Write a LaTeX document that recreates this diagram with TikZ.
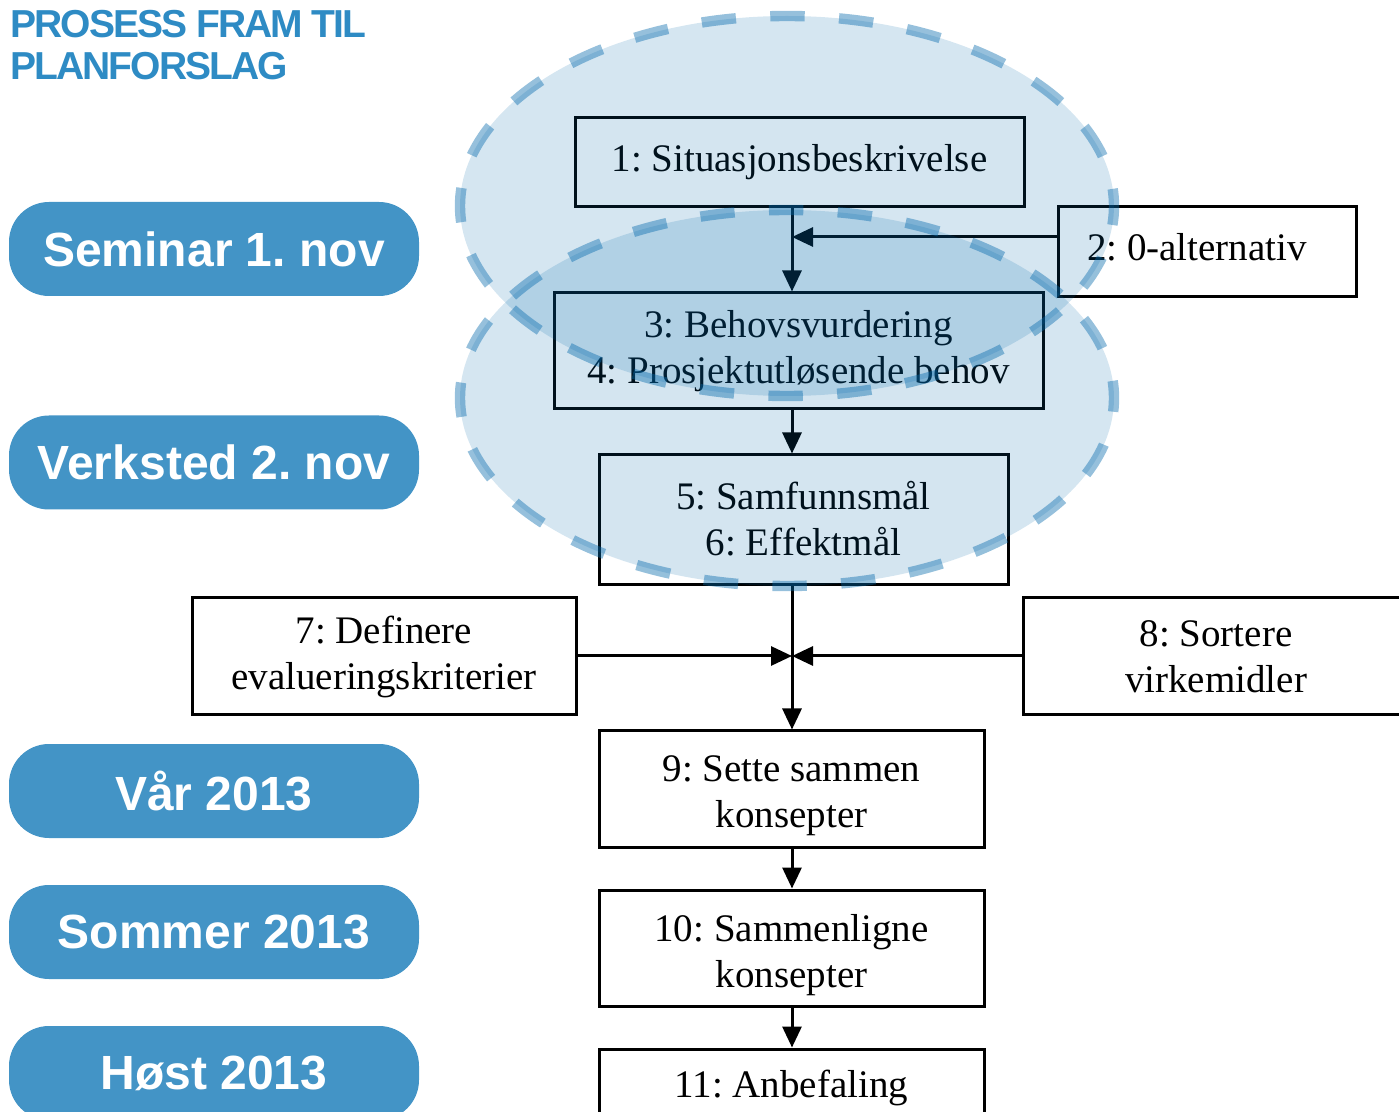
\documentclass[tikz,border=0pt]{standalone}
\usepackage{fontspec}
\setmainfont{Liberation Serif}
\newfontfamily\pillfont{Liberation Sans}
\newfontfamily\ttlfont{Liberation Sans}[LetterSpace=-5]
\usetikzlibrary{arrows.meta}
\definecolor{pill}{RGB}{67,148,198}
\definecolor{ttl}{RGB}{46,139,196}
\definecolor{ell}{RGB}{4,105,171}
\newcommand{\lowr}[2]{\raisebox{#1}{#2}}
\begin{document}
\frenchspacing
\begin{tikzpicture}[x=0.5pt,y=-0.5pt,
  box/.style={draw=black, line width=1.5pt, fill=white, align=center, inner sep=0pt,
    font=\fontsize{19.5}{23}\selectfont},
  pillbox/.style={fill=pill, rounded corners=20pt, minimum width=205pt, minimum height=47pt,
    text=white, inner sep=0pt, font=\pillfont\bfseries\fontsize{24}{28}\selectfont},
  arr/.style={line width=1.5pt, -{Triangle[length=10.5pt,width=9.5pt]}},
  zone/.style={draw=ell, draw opacity=0.42, fill=ell, fill opacity=0.17, line width=5.2pt,
    dash pattern=on 17.2pt off 17.2pt, dash phase=8.6pt},
  ttlnode/.style={anchor=base west, text=ttl, inner sep=0pt, font=\ttlfont\bfseries\fontsize{19.5}{23}\selectfont}
]
\useasboundingbox (0,0) rectangle (1399,1112);
\clip (0,0) rectangle (1399,1112);

% title
\node[ttlnode] (t1) at (10,38) {PROSESS FRAM TIL};
\node[ttlnode] (t2) at (10,80) {PLANFORSLAG};

% pills
\node[pillbox] (p1) at (214,249) {Seminar 1. nov};
\node[pillbox] (p2) at (214,462.5) {Verksted 2. nov};
\node[pillbox] (p3) at (214,791) {Vår 2013};
\node[pillbox] (p4) at (214,932) {Sommer 2013};
\node[pillbox] (p5) at (214,1073) {Høst 2013};

% boxes
\node[box, minimum width=224.5pt, minimum height=44.5pt] (b1) at (799.5,162.5) {1: Situasjonsbeskrivelse};
\node[box, minimum width=149pt, minimum height=45pt] (b2) at (1207,251.5) {};
\node[font=\fontsize{19.5}{23}\selectfont, inner sep=0pt] (b2t) at (1197,247) {2: 0-alternativ};
\node[box, minimum width=244.5pt, minimum height=58pt] (b3) at (798.5,351) {\lowr{-2.5pt}{3: Behovsvurdering}\\\lowr{-2.5pt}{4: Prosjektutløsende behov}};
\node[box, minimum width=204.5pt, minimum height=65pt] (b5) at (803.5,520) {\lowr{2pt}{5: Samfunnsmål}\\\lowr{2pt}{6: Effektmål}};
\node[box, minimum width=192pt, minimum height=58.5pt] (b7) at (384,656.5) {7: Definere\\evalueringskriterier};
\node[box, minimum width=193pt, minimum height=58.5pt] (b8) at (1216,656.5) {8: Sortere\\virkemidler};
\node[box, minimum width=192.5pt, minimum height=58pt, text depth=1pt] (b9) at (791.5,789) {\lowr{-4pt}{9: Sette sammen}\\\lowr{-4pt}{konsepter}};
\node[box, minimum width=192.5pt, minimum height=58pt, text depth=1pt] (b10) at (791.5,948) {\lowr{-4pt}{10: Sammenligne}\\\lowr{-4pt}{konsepter}};
\node[box, minimum width=192.5pt, minimum height=58pt] (b11) at (791.5,1107) {11: Anbefaling\\\mbox{}};

% connectors
\coordinate (m) at (792,0);
\coordinate (a2) at (792,237);
\coordinate (a78) at (792,656);
\draw[arr] (b1.south -| m) -- (b3.north -| m);
\draw[arr] (b2.west |- a2) -- (a2);
\draw[arr] (b3.south -| m) -- (b5.north -| m);
\draw[arr] (b5.south -| m) -- (b9.north -| m);
\draw[arr] (b7.east |- a78) -- (a78);
\draw[arr] (b8.west |- a78) -- (a78);
\draw[arr] (b9.south -| m) -- (b10.north -| m);
\draw[arr] (b10.south -| m) -- (b11.north -| m);

% zones
\path[zone] (787,206) ellipse [x radius=163.5pt, y radius=95pt];
\path[zone] (787,398) ellipse [x radius=163.5pt, y radius=94pt];
\end{tikzpicture}
\end{document}
